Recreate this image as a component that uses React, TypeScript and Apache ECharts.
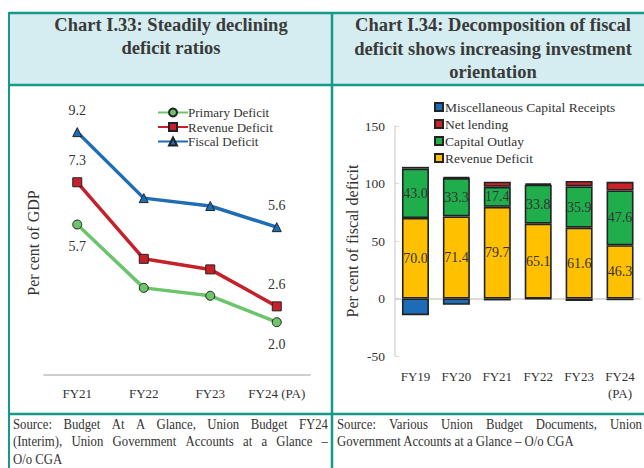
import React, { useEffect, useRef } from "react";
import * as echarts from "echarts";

// Left chart data
const lineCategories = ["FY21", "FY22", "FY23", "FY24 (PA)"];
const primaryDeficit = [5.7, 3.3, 3.0, 2.0];
const revenueDeficitGDP = [7.3, 4.4, 4.0, 2.6];
const fiscalDeficit = [9.2, 6.7, 6.4, 5.6];

// Right chart data
const barCategories = ["FY19", "FY20", "FY21", "FY22", "FY23", "FY24\n(PA)"];
const revenueDeficitShare = [70.0, 71.4, 79.7, 65.1, 61.6, 46.3];
const capitalOutlay = [43.0, 33.3, 17.4, 33.8, 35.9, 47.6];
const netLending = [1.5, 0.8, 4.5, 1.2, 4.7, 7.6];
const miscCapitalReceipts = [-14.5, -5.5, -1.7, -0.4, -2.2, -1.5];
const barTicks = [-50, 0, 50, 100, 150];

const SERIF = "'Liberation Serif', 'DejaVu Serif', serif";
const TEAL = "#14998b";
const TXT = "#333333";

function measure(text: string, size: number): number {
  const span = document.createElement("span");
  span.style.position = "absolute";
  span.style.visibility = "hidden";
  span.style.whiteSpace = "pre";
  span.style.fontFamily = SERIF;
  span.style.fontSize = `${size}px`;
  span.textContent = text;
  document.body.appendChild(span);
  const w = span.getBoundingClientRect().width;
  document.body.removeChild(span);
  return w;
}

function justified(line: string, x0: number, x1: number, y: number, size: number, sx: number): any[] {
  const words = line.split(" ");
  const widths = words.map((w) => measure(w, size) * sx);
  const total = widths.reduce((a, b) => a + b, 0);
  const gap = words.length > 1 ? (x1 - x0 - total) / (words.length - 1) : 0;
  let x = x0;
  return words.map((w, i) => {
    const el = {
      type: "text",
      x,
      y,
      scaleX: sx,
      style: { text: w, fill: TXT, font: `${size}px ${SERIF}`, verticalAlign: "middle" },
    };
    x += widths[i] + gap;
    return el;
  });
}

function plain(line: string, x: number, y: number, size: number, sx: number): any {
  return {
    type: "text",
    x,
    y,
    scaleX: sx,
    style: { text: line, fill: TXT, font: `${size}px ${SERIF}`, verticalAlign: "middle" },
  };
}

export default function App() {
  const ref = useRef<HTMLDivElement>(null);
  useEffect(() => {
    if (!ref.current) return;
    const chart = echarts.init(ref.current, undefined, { renderer: "svg" });

    const endLabels = (arr: number[], pos: string) =>
      arr.map((v, i) => ({
        value: v,
        label: {
          show: i === 0 || i === arr.length - 1,
          position: pos,
          distance: 10,
          formatter: (p: any) => Number(p.value).toFixed(1),
          color: TXT,
          fontFamily: SERIF,
          fontSize: 14,
        },
      }));

    const lineSeries = (name: string, data: number[], color: string, symbol: string, pos: string) => ({
      name,
      type: "line",
      xAxisIndex: 0,
      yAxisIndex: 0,
      data: endLabels(data, pos),
      symbol,
      symbolSize: 9,
      lineStyle: { color, width: 3.5 },
      itemStyle: { color, borderColor: "#222", borderWidth: 1 },
      z: 3,
    });

    const barSeries = (name: string, data: number[], color: string, showLabel: boolean) => ({
      name,
      type: "bar",
      stack: "fd",
      xAxisIndex: 1,
      yAxisIndex: 1,
      data,
      barWidth: 27,
      itemStyle: { color, borderColor: "#222222", borderWidth: 1.6 },
      label: {
        show: showLabel,
        position: "inside",
        formatter: (p: any) => Number(p.value).toFixed(1),
        color: TXT,
        fontFamily: SERIF,
        fontSize: 14,
      },
    });

    const revBar: any = barSeries("Revenue Deficit", revenueDeficitShare, "#ffc000", true);
    revBar.markLine = {
      silent: true,
      symbol: "none",
      label: { show: false },
      lineStyle: { color: "#cfcfcf", width: 1.5, type: "solid" },
      data: [{ yAxis: 0 }],
      z: 1,
    };

    const srcSize = 14.5;
    const srcSx = 0.88;
    const sources: any[] = [
      ...justified("Source: Budget At A Glance, Union Budget FY24", 13, 328, 424, srcSize, srcSx),
      ...justified("(Interim), Union Government Accounts at a Glance –", 13, 328, 441.5, srcSize, srcSx),
      plain("O/o CGA", 13, 459, srcSize, srcSx),
      ...justified("Source: Various Union Budget Documents, Union", 337, 642, 424, srcSize, srcSx),
      plain("Government Accounts at a Glance – O/o CGA", 337, 441.5, srcSize, srcSx),
    ];

    chart.setOption({
      animation: false,
      backgroundColor: "#ffffff",
      textStyle: { fontFamily: SERIF },
      grid: [
        { left: 44, width: 266, top: 111, height: 264 },
        { left: 395, width: 245.5, top: 126, height: 230 },
      ],
      xAxis: [
        {
          type: "category",
          gridIndex: 0,
          data: lineCategories,
          axisLine: { lineStyle: { color: "#cfcfcf", width: 2 } },
          axisTick: { show: false },
          axisLabel: { color: TXT, fontFamily: SERIF, fontSize: 13, margin: 12, interval: 0 },
        },
        {
          type: "category",
          gridIndex: 1,
          data: barCategories,
          position: "bottom",
          axisLine: { show: false, onZero: false },
          axisTick: { show: false },
          axisLabel: { color: TXT, fontFamily: SERIF, fontSize: 13, margin: 12, lineHeight: 17, interval: 0 },
        },
      ],
      yAxis: [
        { type: "value", gridIndex: 0, min: 0, max: 10, show: false },
        {
          type: "value",
          gridIndex: 1,
          min: barTicks[0],
          max: barTicks[barTicks.length - 1],
          interval: 50,
          name: "Per cent of fiscal deficit",
          nameLocation: "middle",
          nameGap: 30,
          nameRotate: 90,
          nameTextStyle: { color: TXT, fontFamily: SERIF, fontSize: 16 },
          axisLine: { show: true, lineStyle: { color: "#d9d9d9", width: 1.5 } },
          axisTick: { show: true, inside: true, length: 4, lineStyle: { color: "#d9d9d9" } },
          splitLine: { show: false },
          axisLabel: { color: TXT, fontFamily: SERIF, fontSize: 13.5, margin: 10 },
        },
      ],
      legend: [
        {
          data: ["Primary Deficit", "Revenue Deficit GDP", "Fiscal Deficit"],
          orient: "vertical",
          left: 152,
          top: 101,
          itemWidth: 30,
          itemHeight: 10,
          itemGap: 1.5,
          formatter: (n: string) => (n === "Revenue Deficit GDP" ? "Revenue Deficit" : n),
          textStyle: { color: TXT, fontFamily: SERIF, fontSize: 13, padding: [0, 0, 0, -5] },
        },
        {
          data: ["Miscellaneous Capital Receipts", "Net lending", "Capital Outlay", "Revenue Deficit"],
          orient: "vertical",
          left: 429,
          top: 95,
          itemWidth: 8,
          itemHeight: 8,
          itemGap: 3,
          icon: "rect",
          textStyle: { color: TXT, fontFamily: SERIF, fontSize: 13.5, padding: [0, 0, 0, -3] },
        },
      ],
      series: [
        lineSeries("Primary Deficit", primaryDeficit, "#6cc46c", "circle", "bottom"),
        lineSeries("Revenue Deficit GDP", revenueDeficitGDP, "#c5212b", "rect", "top"),
        lineSeries("Fiscal Deficit", fiscalDeficit, "#1f6db4", "triangle", "top"),
        revBar,
        barSeries("Capital Outlay", capitalOutlay, "#1fae4b", true),
        barSeries("Net lending", netLending, "#cb2129", false),
        barSeries("Miscellaneous Capital Receipts", miscCapitalReceipts, "#1c6db6", false),
      ],
      graphic: [
        { type: "rect", shape: { x: 9, y: 13, width: 640, height: 72 }, style: { fill: "#d5edf0" }, z: -1 },
        { type: "line", shape: { x1: 9, y1: 13, x2: 650, y2: 13 }, style: { stroke: TEAL, lineWidth: 2.5 } },
        { type: "line", shape: { x1: 9, y1: 85, x2: 650, y2: 85 }, style: { stroke: TEAL, lineWidth: 2.5 } },
        { type: "line", shape: { x1: 9, y1: 414, x2: 650, y2: 414 }, style: { stroke: TEAL, lineWidth: 2.5 } },
        { type: "line", shape: { x1: 9, y1: 12, x2: 9, y2: 470 }, style: { stroke: TEAL, lineWidth: 2 } },
        { type: "line", shape: { x1: 332, y1: 12, x2: 332, y2: 470 }, style: { stroke: TEAL, lineWidth: 2.5 } },
        {
          type: "text",
          x: 171,
          y: 36.5,
          style: {
            text: "Chart I.33: Steadily declining\ndeficit ratios",
            fill: "#3a3a3a",
            font: `bold 18.5px ${SERIF}`,
            align: "center",
            verticalAlign: "middle",
            lineHeight: 23.5,
          },
        },
        {
          type: "text",
          x: 493,
          y: 48.5,
          style: {
            text: "Chart I.34: Decomposition of fiscal\ndeficit shows increasing investment\norientation",
            fill: "#3a3a3a",
            font: `bold 18.5px ${SERIF}`,
            align: "center",
            verticalAlign: "middle",
            lineHeight: 23.5,
          },
        },
        ...sources,
        {
          type: "text",
          x: 33,
          y: 243,
          rotation: Math.PI / 2,
          style: {
            text: "Per cent of GDP",
            fill: TXT,
            font: `16px ${SERIF}`,
            align: "center",
            verticalAlign: "middle",
          },
        },
      ],
    });
    return () => chart.dispose();
  }, []);
  return (
    <div
      ref={ref}
      style={{ position: "fixed", left: 0, top: 0, width: 644, height: 468, background: "#fff" }}
    />
  );
}
